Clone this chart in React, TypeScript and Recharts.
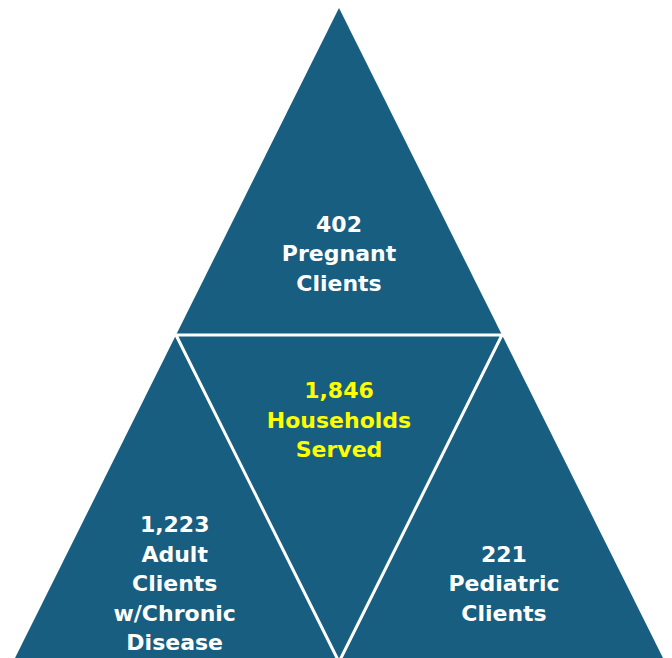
import { ComposedChart, Area, Line, Scatter, XAxis, YAxis } from "recharts";

// triangle diagram drawn on a unit square (x: 0..1 left to right, y: 0..1 bottom to top)
const outerTriangle = [
  { x: 0, y: 0 },
  { x: 0.5, y: 1 },
  { x: 1, y: 0 },
];

const innerTriangle = [
  { x: 0.25, y: 0.5 },
  { x: 0.75, y: 0.5 },
  { x: 0.5, y: 0 },
  { x: 0.25, y: 0.5 },
];

const labels = [
  { x: 0.5, y: 0.624, lines: ["402", "Pregnant", "Clients"], color: "#ffffff" },
  { x: 0.5, y: 0.37, lines: ["1,846", "Households", "Served"], color: "#ffff00" },
  { x: 0.248, y: 0.12, lines: ["1,223", "Adult", "Clients", "w/Chronic", "Disease"], color: "#ffffff" },
  { x: 0.753, y: 0.12, lines: ["221", "Pediatric", "Clients"], color: "#ffffff" },
];

const FILL = "#175e80";
const LINE_H = 29.5;

function LabelShape(props: any) {
  const { cx, cy, payload } = props;
  const n = payload.lines.length;
  return (
    <text
      x={cx}
      y={cy}
      textAnchor="middle"
      fill={payload.color}
      fontFamily="DejaVu Sans"
      fontWeight="bold"
      fontSize={22}
    >
      {payload.lines.map((t: string, i: number) => (
        <tspan key={i} x={cx} y={cy + (i - (n - 1) / 2) * LINE_H} dominantBaseline="central">
          {t}
        </tspan>
      ))}
    </text>
  );
}

export default function App() {
  return (
    <div>
      <style>{"body{margin:0;overflow:hidden}"}</style>
      <ComposedChart width={672} height={662} margin={{ top: 8, right: 7, bottom: 0, left: 13 }}>
        <XAxis type="number" dataKey="x" domain={[0, 1]} hide />
        <YAxis type="number" dataKey="y" domain={[0, 1]} hide />
        <Area
          data={outerTriangle}
          dataKey="y"
          type="linear"
          fill={FILL}
          fillOpacity={1}
          stroke="none"
          baseValue={0}
          isAnimationActive={false}
        />
        <Line
          data={innerTriangle}
          dataKey="y"
          type="linear"
          stroke="#ffffff"
          strokeWidth={3}
          dot={false}
          activeDot={false}
          isAnimationActive={false}
        />
        <Scatter data={labels} dataKey="y" shape={LabelShape} isAnimationActive={false} />
      </ComposedChart>
    </div>
  );
}
